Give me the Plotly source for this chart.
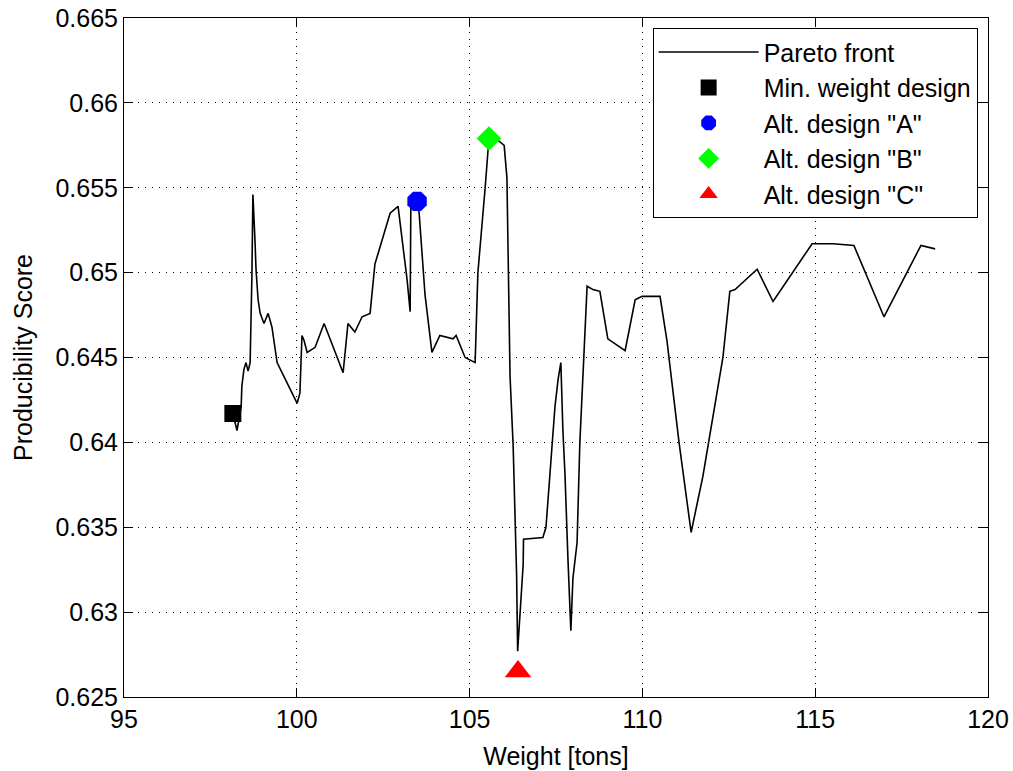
import plotly.graph_objects as go

# Pareto front (weight [tons], producibility score)
front_weight = [98.15, 98.27, 98.39, 98.41, 98.47, 98.53, 98.59, 98.65, 98.70, 98.73,
                98.79, 98.82, 98.88, 98.94, 99.05, 99.17, 99.28, 99.43, 100.01, 100.09,
                100.15, 100.21, 100.30, 100.53, 100.79, 101.34, 101.48, 101.68, 101.89, 102.12,
                102.26, 102.47, 102.70, 102.93, 103.19, 103.28, 103.30, 103.48, 103.54, 103.71,
                103.91, 104.14, 104.52, 104.61, 104.87, 105.16, 105.24, 105.45, 105.53, 105.56,
                105.82, 106.00, 106.08, 106.17, 106.26, 106.31, 106.36, 106.39, 106.46, 106.55,
                106.56, 107.12, 107.21, 107.38, 107.47, 107.56, 107.64, 107.70, 107.76, 107.85,
                107.93, 107.99, 108.11, 108.19, 108.28, 108.40, 108.57, 108.77, 109.00, 109.50,
                109.79, 109.99, 110.51, 110.71, 111.06, 111.41, 111.75, 112.33, 112.53, 112.68,
                113.32, 113.78, 114.91, 115.52, 116.12, 116.99, 118.06, 118.47]
front_score = [0.6417, 0.6407, 0.6421, 0.6433, 0.6443, 0.6447, 0.6442, 0.6447, 0.6497, 0.6546,
               0.6519, 0.6502, 0.6484, 0.6476, 0.6470, 0.6476, 0.6468, 0.6447, 0.6423, 0.6429,
               0.6463, 0.6460, 0.6453, 0.6456, 0.6470, 0.6441, 0.6470, 0.6465, 0.6474, 0.6476,
               0.6505, 0.6519, 0.6535, 0.6539, 0.6496, 0.6477, 0.6541, 0.6542, 0.6535, 0.6487,
               0.6453, 0.6463, 0.6461, 0.6463, 0.6450, 0.6447, 0.6500, 0.6550, 0.6572, 0.6579,
               0.6578, 0.6575, 0.6556, 0.6439, 0.6398, 0.6360, 0.6322, 0.6277, 0.6301, 0.6328,
               0.6343, 0.6344, 0.6350, 0.6398, 0.6421, 0.6437, 0.6447, 0.6407, 0.6381, 0.6329,
               0.6289, 0.6320, 0.6341, 0.6400, 0.6441, 0.6492, 0.6490, 0.6489, 0.6461, 0.6454,
               0.6484, 0.6486, 0.6486, 0.6460, 0.6400, 0.6347, 0.6380, 0.6450, 0.6489, 0.6490,
               0.6502, 0.6483, 0.6517, 0.6517, 0.6516, 0.6474, 0.6516, 0.6514]

# Highlighted designs
design_names = ["Min. weight design", 'Alt. design "A"', 'Alt. design "B"', 'Alt. design "C"']
design_weight = [98.15, 103.48, 105.56, 106.40]
design_score = [0.6417, 0.6542, 0.6579, 0.6265]
design_symbols = ["square", "octagon", "diamond", "triangle-up"]
design_colors = ["#000000", "#0000FF", "#00FF00", "#FF0000"]
design_sizes = [17, 21, 19, 23]

# Axis ticks
x_ticks = [95, 100, 105, 110, 115, 120]
x_ticklabels = ["95", "100", "105", "110", "115", "120"]
y_ticks = [0.625, 0.63, 0.635, 0.64, 0.645, 0.65, 0.655, 0.66, 0.665]
y_ticklabels = ["0.625", "0.63", "0.635", "0.64", "0.645", "0.65", "0.655", "0.66", "0.665"]

FONT = "Liberation Sans, Arial, Helvetica, sans-serif"

fig = go.Figure()
fig.add_trace(go.Scatter(
    x=front_weight, y=front_score, mode="lines", name="Pareto front",
    line=dict(color="black", width=1.6)))
for n, xw, ys, sym, col, sz in zip(design_names, design_weight, design_score,
                                   design_symbols, design_colors, design_sizes):
    fig.add_trace(go.Scatter(
        x=[xw], y=[ys], mode="markers", name=n,
        marker=dict(symbol=sym, color=col, size=sz, line=dict(width=0))))

axis_common = dict(
    showline=True, linecolor="black", linewidth=1, mirror="ticks",
    ticks="inside", ticklen=9, tickcolor="black", tickwidth=1,
    showgrid=True, gridcolor="black", gridwidth=1, griddash="1px,6px",
    zeroline=False, automargin=False,
    tickfont=dict(family=FONT, size=25, color="black"),
)

fig.update_layout(
    width=1013, height=771,
    margin=dict(l=124, r=25, t=18, b=74),
    paper_bgcolor="white", plot_bgcolor="white",
    font=dict(family=FONT, size=25, color="black"),
    xaxis=dict(range=[95, 120], tickvals=x_ticks, ticktext=x_ticklabels,
               title=dict(text="Weight [tons]", font=dict(family=FONT, size=25)),
               **axis_common),
    yaxis=dict(range=[0.625, 0.665], tickvals=y_ticks, ticktext=y_ticklabels,
               title=dict(text="Producibility Score", font=dict(family=FONT, size=25)),
               **axis_common),
    legend=dict(x=0.988, xanchor="right", y=0.985, yanchor="top",
                bgcolor="white", bordercolor="black", borderwidth=1,
                font=dict(family=FONT, size=25, color="black"),
                itemwidth=100, tracegroupgap=0),
    showlegend=True,
)

fig.write_html("out.html")
